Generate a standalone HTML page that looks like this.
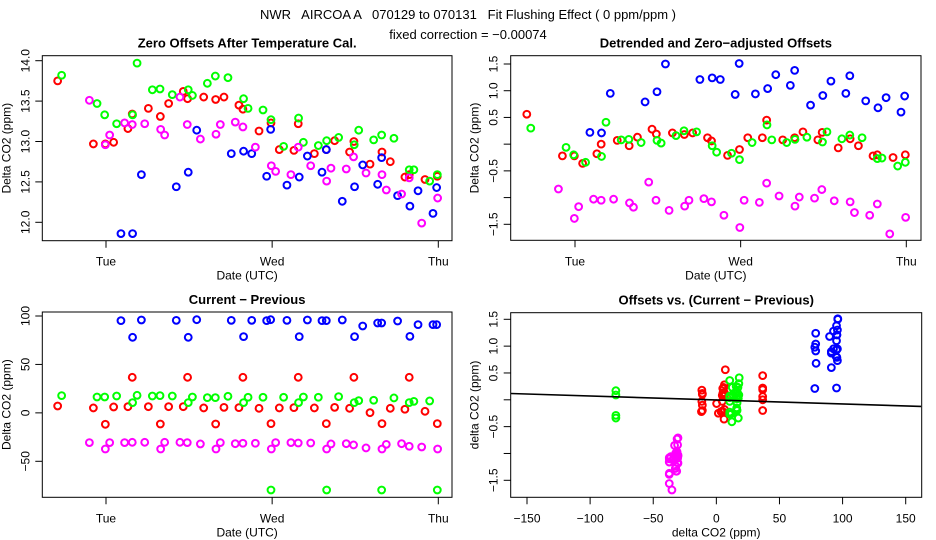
<!DOCTYPE html>
<html><head><meta charset="utf-8"><style>
body{margin:0;background:#fff;}
svg{display:block;font-family:"Liberation Sans",Arial,sans-serif;}
</style></head><body>
<svg id="chart" width="936" height="540" viewBox="0 0 936 540" xmlns="http://www.w3.org/2000/svg">
<rect width="936" height="540" fill="#fff"/>
<text x="468" y="19" text-anchor="middle" font-size="13" xml:space="preserve">NWR   AIRCOA A   070129 to 070131   Fit Flushing Effect ( 0 ppm/ppm )</text>
<text x="468" y="39" text-anchor="middle" font-size="13">fixed correction = −0.00074</text>
<g id="g"></g>
</svg>
<script>
// times (days since Tue 00:00)
const redT=[-0.291,-0.076,-0.004,0.046,0.132,0.158,0.255,0.327,0.377,0.465,0.491,0.588,0.660,0.710,0.800,0.824,0.921,0.993,1.043,1.131,1.157,1.254,1.326,1.376,1.466,1.492,1.589,1.661,1.711,1.799,1.825,1.920,1.994];
const redZero=[13.75,12.97,12.97,12.99,13.16,13.34,13.41,13.31,13.47,13.62,13.53,13.55,13.52,13.55,13.45,13.40,13.13,13.23,12.90,12.89,13.22,12.85,12.90,13.01,12.87,13.00,12.72,12.87,12.75,12.56,12.59,12.53,12.57];
const redDetr=[0.56,-0.22,-0.22,-0.36,-0.18,0.0,0.07,-0.03,0.13,0.28,0.19,0.21,0.18,0.21,0.12,0.06,-0.21,-0.10,0.12,0.12,0.45,0.08,0.12,0.23,0.08,0.22,-0.07,0.10,-0.03,-0.22,-0.20,-0.25,-0.20];
const redDiff=[7.1,5.1,-11.8,6.1,6.4,36.7,6.4,-11.5,6.4,6.4,36.7,5.1,-11.5,5.7,5.4,36.7,4.7,-11.1,5.1,5.4,36.7,5.1,-11.1,5.7,4.7,36.7,0.2,-11.1,4.7,3.7,36.7,1.6,-11.1];

const greenT=[-0.267,-0.054,-0.008,0.064,0.160,0.187,0.279,0.325,0.399,0.495,0.520,0.610,0.658,0.734,0.828,0.855,0.945,0.993,1.069,1.159,1.188,1.278,1.328,1.400,1.494,1.521,1.611,1.659,1.733,1.825,1.853,1.948,1.994];
const greenZero=[13.82,13.47,13.33,13.22,13.33,13.97,13.64,13.65,13.58,13.64,13.57,13.72,13.81,13.79,13.53,13.41,13.39,13.27,12.94,13.29,12.99,12.95,13.01,13.05,12.96,13.14,13.02,13.08,13.04,12.65,12.65,12.51,12.59];
const greenDetr=[0.30,-0.06,-0.20,-0.34,-0.23,0.41,0.08,0.09,0.03,0.07,0.02,0.16,0.25,0.23,-0.03,-0.15,-0.17,-0.29,0.03,0.36,0.08,0.03,0.09,0.13,0.04,0.23,0.10,0.17,0.12,-0.27,-0.26,-0.41,-0.34];
const greenDiff=[17.8,16.4,16.4,17.4,10.6,18.1,17.4,17.8,17.4,10.6,16.4,15.7,15.7,17.1,10.6,16.1,16.1,-79.6,16.1,10.6,16.4,16.1,-79.6,16.8,10.6,12.6,13.0,-79.6,15.4,10.6,11.9,12.3,-79.6];

const blueT=[0.090,0.160,0.213,0.423,0.495,0.546,0.754,0.828,0.877,0.967,0.991,1.089,1.163,1.212,1.300,1.326,1.422,1.496,1.545,1.635,1.659,1.755,1.829,1.878,1.968,1.990];
const blueZero=[11.86,11.86,12.59,12.44,12.62,13.14,12.85,12.88,12.85,12.57,13.15,12.46,12.56,12.82,12.62,12.90,12.26,12.44,12.71,12.47,12.80,12.33,12.20,12.39,12.11,12.43];
const blueDetr=[0.22,0.21,0.95,0.79,0.98,1.50,1.21,1.24,1.21,0.93,1.51,0.94,1.04,1.30,1.10,1.38,0.73,0.91,1.18,0.95,1.28,0.81,0.68,0.87,0.60,0.90];
const blueDiff=[95.2,78.0,95.9,95.5,78.0,96.2,95.5,78.7,95.5,95.2,96.2,95.5,78.7,95.9,95.2,95.2,95.9,78.7,89.7,92.8,92.8,94.8,79.0,91.1,91.1,91.1];

const magT=[-0.100,-0.004,0.022,0.112,0.158,0.233,0.329,0.353,0.445,0.489,0.568,0.662,0.688,0.778,0.824,0.899,0.995,1.021,1.113,1.157,1.232,1.328,1.354,1.446,1.490,1.565,1.661,1.687,1.779,1.825,1.900,1.996];
const magZero=[13.51,12.96,13.08,13.23,13.21,13.22,13.15,13.08,13.55,13.21,13.03,13.09,13.21,13.24,13.18,12.93,12.70,12.63,12.59,12.93,12.70,12.51,12.67,12.66,12.81,12.61,12.59,12.40,12.35,12.55,11.99,12.30];
const magDetr=[-0.84,-1.39,-1.17,-1.03,-1.05,-1.03,-1.10,-1.18,-0.71,-1.05,-1.24,-1.16,-1.05,-1.02,-1.08,-1.33,-1.56,-1.05,-1.09,-0.73,-0.97,-1.16,-0.99,-1.01,-0.85,-1.06,-1.08,-1.28,-1.33,-1.12,-1.68,-1.37];
const magDiff=[-30.7,-37.3,-30.7,-30.7,-30.4,-30.4,-37.3,-30.4,-30.4,-30.7,-32.1,-37.3,-30.7,-31.8,-31.4,-31.4,-37.3,-30.7,-30.7,-31.1,-31.1,-37.3,-32.1,-31.8,-33.1,-36.2,-37.3,-32.5,-31.8,-34.5,-35.2,-37.3];

const fitIntercept=-0.003;
const fitSlope=-0.00074;

const dayTicks=[0,1,2];
const dayLabels=["Tue","Wed","Thu"];
const zeroTicks=[12.0,12.5,13.0,13.5,14.0];
const zeroLabels=["12.0","12.5","13.0","13.5","14.0"];
const detrTicks=[-1.5,-1,-0.5,0,0.5,1,1.5];
const detrLabels=["−1.5","","−0.5","","0.5","1.0","1.5"];
const diffTicks=[-50,0,50,100];
const diffLabels=["−50","0","50","100"];
const scatTicks=[-150,-100,-50,0,50,100,150];
const scatLabels=["−150","−100","−50","0","50","100","150"];

const NS="http://www.w3.org/2000/svg";
const G=document.getElementById('g');
function mk(tag,attrs,parent){const e=document.createElementNS(NS,tag);for(const k in attrs)e.setAttribute(k,attrs[k]);(parent||G).appendChild(e);return e;}
function lin(d0,d1,r0,r1){return v=>r0+(v-d0)*(r1-r0)/(d1-d0);}

const colors={red:"#ff0000",green:"#00ff00",blue:"#0000ff",mag:"#ff00ff"};

function panel(p){
  const g=mk('g',{});
  
  
  const box=mk('rect',{x:p.L,y:p.T,width:p.R-p.L,height:p.B-p.T,fill:'none',stroke:'#000','stroke-width':1},g);
  
  
  const t=mk('text',{x:(p.L+p.R)/2,y:p.T-8,'text-anchor':'middle','font-size':13,'font-weight':'bold'},g);
  t.textContent=p.title;
  
  
  p.xt.forEach((v,i)=>{const x=p.sx(v);
    const tk=mk('line',{x1:x,x2:x,y1:p.B,y2:p.B+7,stroke:'#000'},g);
    
    
    const tl=mk('text',{x:x,y:p.B+25,'text-anchor':'middle','font-size':12},g);tl.textContent=p.xl[i];
    
    
  });
  p.yt.forEach((v,i)=>{const y=p.sy(v);
    const tk=mk('line',{x1:p.L-7,x2:p.L,y1:y,y2:y,stroke:'#000'},g);
    
    
    if(p.yl[i]){const tx=p.L-13;
      const tl=mk('text',{x:tx,y:y,'text-anchor':'middle','font-size':12,transform:`rotate(-90 ${tx} ${y})`},g);tl.textContent=p.yl[i];
      
      }
  });
  const xt=mk('text',{x:(p.L+p.R)/2,y:p.B+39,'text-anchor':'middle','font-size':12},g);xt.textContent=p.xtitle;
  
  
  const yx=p.L-32,yy=(p.T+p.B)/2;
  const yt=mk('text',{x:yx,y:yy,'text-anchor':'middle','font-size':12,transform:`rotate(-90 ${yx} ${yy})`},g);yt.textContent=p.ytitle;
  
  
  p.series.forEach(s=>{
    s.xs.forEach((xv,i)=>{
      const c=mk('circle',{cx:p.sx(xv),cy:p.sy(s.ys[i]),r:3.4,fill:'none',stroke:colors[s.c],'stroke-width':2},g);
      
      
    });
  });
  return g;
}

// Panel 1
const sx1=lin(0,2,106,438.3);
panel({name:'zero-offsets-panel',L:42.3,R:452,T:55.7,B:240.7,sx:sx1,sy:lin(12,14,222.3,60.7),
  title:'Zero Offsets After Temperature Cal.',xtitle:'Date (UTC)',ytitle:'Delta CO2 (ppm)',
  xt:dayTicks,xl:dayLabels,yt:zeroTicks,yl:zeroLabels,
  series:[{c:'red',xs:redT,ys:redZero},{c:'green',xs:greenT,ys:greenZero},{c:'blue',xs:blueT,ys:blueZero},{c:'mag',xs:magT,ys:magZero}]});
// Panel 2
panel({name:'detrended-offsets-panel',L:510.7,R:921,T:55.7,B:240.3,sx:lin(0,2,575,906.3),sy:lin(-1.5,1.5,224.3,64),
  title:'Detrended and Zero−adjusted Offsets',xtitle:'Date (UTC)',ytitle:'Delta CO2 (ppm)',
  xt:dayTicks,xl:dayLabels,yt:detrTicks,yl:detrLabels,
  series:[{c:'red',xs:redT,ys:redDetr},{c:'green',xs:greenT,ys:greenDetr},{c:'blue',xs:blueT,ys:blueDetr},{c:'mag',xs:magT,ys:magDetr}]});
// Panel 3
panel({name:'current-minus-previous-panel',L:42.3,R:452,T:312,B:497.3,sx:sx1,sy:lin(-50,100,461.3,316),
  title:'Current − Previous',xtitle:'Date (UTC)',ytitle:'Delta CO2 (ppm)',
  xt:dayTicks,xl:dayLabels,yt:diffTicks,yl:diffLabels,
  series:[{c:'red',xs:redT,ys:redDiff},{c:'green',xs:greenT,ys:greenDiff},{c:'blue',xs:blueT,ys:blueDiff},{c:'mag',xs:magT,ys:magDiff}]});
// Panel 4
const sx4=lin(-150,150,527,905.7), sy4=lin(-1.5,1.5,480.3,319.3);
const p4=panel({name:'offsets-vs-difference-panel',L:510.7,R:921.7,T:312.7,B:497.3,sx:sx4,sy:sy4,
  title:'Offsets vs. (Current − Previous)',xtitle:'delta CO2 (ppm)',ytitle:'delta CO2 (ppm)',
  xt:scatTicks,xl:scatLabels,yt:detrTicks,yl:detrLabels,
  series:[{c:'red',xs:redDiff,ys:redDetr},{c:'green',xs:greenDiff,ys:greenDetr},{c:'blue',xs:blueDiff,ys:blueDetr},{c:'mag',xs:magDiff,ys:magDetr}]});
const x0=-162.9,x1=162.2;
const fl=mk('line',{x1:sx4(x0),y1:sy4(fitIntercept+fitSlope*x0),x2:sx4(x1),y2:sy4(fitIntercept+fitSlope*x1),stroke:'#000','stroke-width':1.6},p4);


</script>
</body></html>
